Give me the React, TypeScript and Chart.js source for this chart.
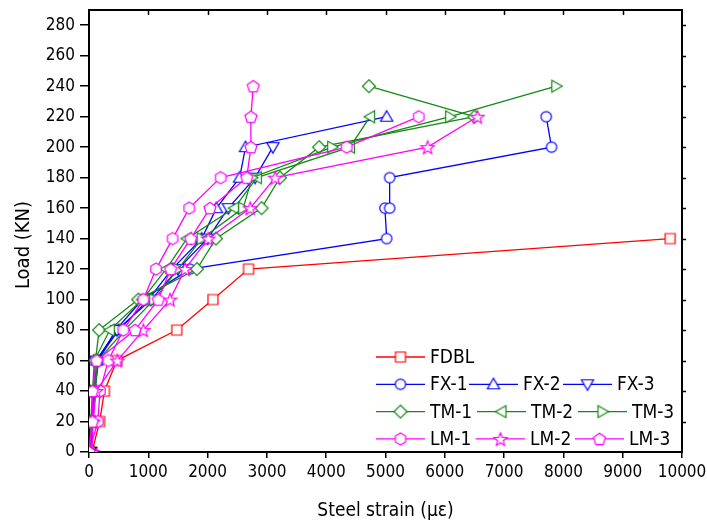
import React, { useEffect, useRef } from 'react';
import { Chart, registerables } from 'chart.js';

Chart.register(...registerables);

const FONT = '"Liberation Sans Narrow", "DejaVu Sans Condensed", "Arial Narrow", sans-serif';

// ---- data (strain in µε, load in kN) ----
const fdblStrain = [50, 180, 260, 470, 1480, 2090, 2690, 9800];
const fdblLoad = [0, 20, 40, 60, 80, 100, 120, 140];

const fx1Strain = [30, 60, 100, 160, 450, 900, 1700, 5020, 4990, 5070, 5070, 7800, 7710];
const fx1Load = [0, 20, 40, 60, 80, 100, 120, 140, 160, 160, 180, 200, 220];

const fx2Strain = [20, 50, 80, 130, 500, 1000, 1400, 1900, 2150, 2540, 2640, 5020];
const fx2Load = [0, 20, 40, 60, 80, 100, 120, 140, 160, 180, 200, 220];

const fx3Strain = [20, 40, 70, 120, 470, 1050, 1500, 2000, 2350, 2800, 3100];
const fx3Load = [0, 20, 40, 60, 80, 100, 120, 140, 160, 180, 200];

const tm1Strain = [10, 40, 90, 110, 170, 830, 1820, 2140, 2910, 3220, 3880, 6500, 4720];
const tm1Load = [0, 20, 40, 60, 80, 100, 120, 140, 160, 180, 200, 220, 240];

const tm2Strain = [10, 30, 60, 90, 350, 900, 1300, 1650, 2450, 2830, 4400, 4740];
const tm2Load = [0, 20, 40, 60, 80, 100, 120, 140, 160, 180, 200, 220];

const tm3Strain = [10, 50, 100, 150, 600, 1100, 1500, 1900, 2600, 2750, 4100, 6090, 7880];
const tm3Load = [0, 20, 40, 60, 80, 100, 120, 140, 160, 180, 200, 220, 240];

const lm1Strain = [0, 150, 185, 326, 579, 916, 1130, 1410, 1690, 2220, 4345, 5560];
const lm1Load = [0, 20, 40, 60, 80, 100, 120, 140, 160, 180, 200, 220];

const lm2Strain = [50, 70, 120, 478, 916, 1366, 1619, 2012, 2720, 3140, 5710, 6550];
const lm2Load = [0, 20, 40, 60, 80, 100, 120, 140, 160, 180, 200, 220];

const lm3Strain = [0, 56, 56, 129, 776, 1169, 1377, 1715, 2040, 2660, 2730, 2730, 2770];
const lm3Load = [0, 20, 40, 60, 80, 100, 120, 140, 160, 180, 200, 220, 240];

const xTickStep = 1000;
const yTickStep = 20;
const xMax = 10000;
const yMax = 290;
const yLastTick = 280;

const xTitle = 'Steel strain (με)';
const yTitle = 'Load (KN)';

const legendRows = [['FDBL'], ['FX-1', 'FX-2', 'FX-3'], ['TM-1', 'TM-2', 'TM-3'], ['LM-1', 'LM-2', 'LM-3']];
const legendColumns = [[376], [376, 469, 563], [376, 477, 578], [376, 476, 575]];

const RED = '#FF0000';
const BLUE = '#0000FF';
const GREEN = '#138A13';
const MAGENTA = '#FF00FF';

type Shape = 'square' | 'circle' | 'triUp' | 'triDown' | 'diamond' | 'triLeft' | 'triRight' | 'hexagon' | 'star' | 'pentagon';

function polygon(ctx: CanvasRenderingContext2D, cx: number, cy: number, n: number, r: number, startDeg: number) {
  ctx.beginPath();
  for (let i = 0; i < n; i++) {
    const a = ((startDeg + (360 / n) * i) * Math.PI) / 180;
    const px = cx + r * Math.cos(a);
    const py = cy + r * Math.sin(a);
    if (i === 0) ctx.moveTo(px, py);
    else ctx.lineTo(px, py);
  }
  ctx.closePath();
}

function makeMarker(shape: Shape, color: string): HTMLCanvasElement {
  const S = 20;
  const c = document.createElement('canvas');
  c.width = S;
  c.height = S;
  const ctx = c.getContext('2d')!;
  const cx = S / 2;
  const cy = S / 2;
  ctx.lineWidth = 1.2;
  ctx.strokeStyle = color;
  ctx.fillStyle = '#ffffff';
  switch (shape) {
    case 'square':
      ctx.beginPath();
      ctx.rect(cx - 5, cy - 5, 10, 10);
      break;
    case 'circle':
      ctx.beginPath();
      ctx.arc(cx, cy, 5.2, 0, Math.PI * 2);
      break;
    case 'triUp':
      polygon(ctx, cx, cy + 1, 3, 7, -90);
      break;
    case 'triDown':
      polygon(ctx, cx, cy - 1, 3, 7, 90);
      break;
    case 'triLeft':
      polygon(ctx, cx + 1, cy, 3, 7, 180);
      break;
    case 'triRight':
      polygon(ctx, cx - 1, cy, 3, 7, 0);
      break;
    case 'diamond':
      polygon(ctx, cx, cy, 4, 6.5, -90);
      break;
    case 'hexagon':
      polygon(ctx, cx, cy, 6, 6, -90);
      break;
    case 'pentagon':
      polygon(ctx, cx, cy + 0.5, 5, 6.3, -90);
      break;
    case 'star': {
      ctx.beginPath();
      for (let i = 0; i < 10; i++) {
        const r = i % 2 === 0 ? 7 : 3;
        const a = ((-90 + 36 * i) * Math.PI) / 180;
        const px = cx + r * Math.cos(a);
        const py = cy + 0.8 + r * Math.sin(a);
        if (i === 0) ctx.moveTo(px, py);
        else ctx.lineTo(px, py);
      }
      ctx.closePath();
      break;
    }
  }
  ctx.fill();
  ctx.stroke();
  return c;
}

function pts(xs: number[], ys: number[]) {
  return xs.map((x, i) => ({ x, y: ys[i] }));
}

function range(step: number, last: number) {
  const out: { value: number }[] = [];
  for (let v = 0; v <= last; v += step) out.push({ value: v });
  return out;
}

export default function App() {
  const ref = useRef<HTMLCanvasElement | null>(null);

  useEffect(() => {
    if (!ref.current) return;
    const defs: [string, number[], number[], string, Shape][] = [
      ['FDBL', fdblStrain, fdblLoad, RED, 'square'],
      ['FX-1', fx1Strain, fx1Load, BLUE, 'circle'],
      ['FX-2', fx2Strain, fx2Load, BLUE, 'triUp'],
      ['FX-3', fx3Strain, fx3Load, BLUE, 'triDown'],
      ['TM-1', tm1Strain, tm1Load, GREEN, 'diamond'],
      ['TM-2', tm2Strain, tm2Load, GREEN, 'triLeft'],
      ['TM-3', tm3Strain, tm3Load, GREEN, 'triRight'],
      ['LM-1', lm1Strain, lm1Load, MAGENTA, 'hexagon'],
      ['LM-2', lm2Strain, lm2Load, MAGENTA, 'star'],
      ['LM-3', lm3Strain, lm3Load, MAGENTA, 'pentagon'],
    ];
    const markers: Record<string, HTMLCanvasElement> = {};
    const datasets = defs.map(([label, xs, ys, color, shape], i) => {
      const m = makeMarker(shape, color);
      markers[label] = m;
      return {
        label,
        data: pts(xs, ys),
        showLine: true,
        borderColor: color,
        backgroundColor: color,
        borderWidth: 1.3,
        pointStyle: m,
        pointRadius: 6,
        order: defs.length - i,
      };
    });

    const framePlugin = {
      id: 'frameAndLegend',
      afterDraw(chart: any) {
        const { ctx, chartArea } = chart;
        const xs = chart.scales.x;
        const ys = chart.scales.y;
        ctx.save();
        // top and right frame
        ctx.strokeStyle = '#000';
        ctx.lineWidth = 2;
        ctx.beginPath();
        ctx.moveTo(chartArea.left - 1, chartArea.top);
        ctx.lineTo(chartArea.right, chartArea.top);
        ctx.lineTo(chartArea.right, chartArea.bottom + 1);
        ctx.stroke();
        ctx.lineWidth = 1.5;
        ctx.beginPath();
        for (let v = xTickStep; v < xMax; v += xTickStep) {
          const px = Math.round(xs.getPixelForValue(v)) + 0.5;
          ctx.moveTo(px, chartArea.top);
          ctx.lineTo(px, chartArea.top + 5);
        }
        for (let v = yTickStep; v <= yLastTick; v += yTickStep) {
          const py = Math.round(ys.getPixelForValue(v)) + 0.5;
          ctx.moveTo(chartArea.right, py);
          ctx.lineTo(chartArea.right + 4, py);
        }
        ctx.stroke();

        // y title
        ctx.save();
        ctx.translate(24, 245);
        ctx.rotate(-Math.PI / 2);
        ctx.font = '20px ' + FONT;
        ctx.fillStyle = '#000';
        ctx.textAlign = 'center';
        ctx.textBaseline = 'middle';
        ctx.fillText(yTitle, 0, 0);
        ctx.restore();

        // legend
        ctx.font = '19px ' + FONT;
        ctx.textBaseline = 'middle';
        ctx.textAlign = 'left';
        legendRows.forEach((row, ri) => {
          const y = 357 + ri * 27.3;
          row.forEach((name, ci) => {
            const x = legendColumns[ri][ci];
            const ds = chart.data.datasets.find((d: any) => d.label === name);
            ctx.strokeStyle = ds.borderColor;
            ctx.lineWidth = 1.3;
            ctx.beginPath();
            ctx.moveTo(x, y);
            ctx.lineTo(x + 49, y);
            ctx.stroke();
            const m = markers[name];
            ctx.drawImage(m, x + 24.5 - m.width / 2, y - m.height / 2);
            ctx.fillStyle = '#000';
            ctx.fillText(name, x + 54, y + 1);
          });
        });
        ctx.restore();
      },
    };

    const chart = new Chart(ref.current, {
      type: 'scatter',
      data: { datasets: datasets as any },
      options: {
        animation: false,
        responsive: false,
        layout: { padding: { top: 10, right: 25, bottom: 0, left: 0 } },
        plugins: { legend: { display: false }, tooltip: { enabled: false } },
        scales: {
          x: {
            type: 'linear',
            min: 0,
            max: xMax,
            afterFit: (s: any) => {
              s.height = 72;
              s.paddingLeft = 0;
              s.paddingRight = 0;
            },
            ticks: {
              stepSize: xTickStep,
              color: '#000',
              padding: 4,
              maxRotation: 0,
              autoSkip: false,
              font: { family: FONT, size: 17 },
              callback: (v: any) => String(v),
            },
            grid: { drawOnChartArea: false, drawTicks: true, tickLength: 6, color: '#000', lineWidth: 1.5 },
            border: { color: '#000', width: 2 },
            title: {
              display: true,
              text: xTitle,
              color: '#000',
              font: { family: FONT, size: 19 },
              padding: { top: 0, bottom: 2 },
            },
          },
          y: {
            type: 'linear',
            min: 0,
            max: yMax,
            afterFit: (s: any) => {
              s.width = 89;
              s.paddingTop = 0;
              s.paddingBottom = 0;
            },
            afterBuildTicks: (s: any) => {
              s.ticks = range(yTickStep, yLastTick);
            },
            ticks: {
              stepSize: yTickStep,
              color: '#000',
              padding: 5,
              autoSkip: false,
              font: { family: FONT, size: 17 },
              callback: (v: any) => String(v),
            },
            grid: { drawOnChartArea: false, drawTicks: true, tickLength: 9, color: '#000', lineWidth: 1.5 },
            border: { color: '#000', width: 2 },
            title: { display: false },
          },
        },
      },
      plugins: [framePlugin],
    });
    return () => chart.destroy();
  }, []);

  return (
    <canvas
      ref={ref}
      width={707}
      height={524}
      style={{ position: 'absolute', left: 0, top: 0, width: 707, height: 524, background: '#fff' }}
    />
  );
}
